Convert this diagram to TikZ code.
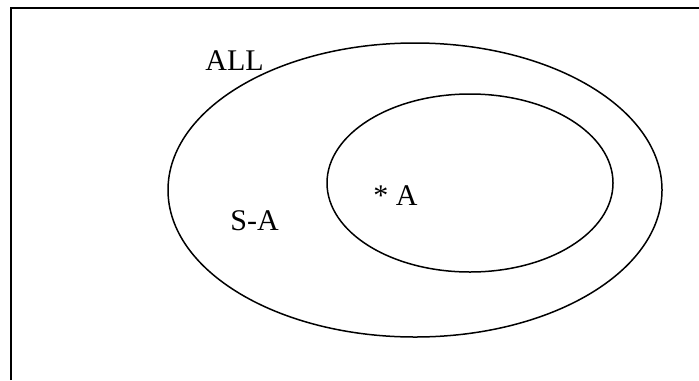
\documentclass[tikz,border=0pt]{standalone}
\usepackage{fontspec}
\setmainfont{Liberation Serif}
\usetikzlibrary{shapes.geometric, positioning}

\begin{document}
\begin{tikzpicture}[x=0.5pt, y=-0.5pt, font=\fontsize{15}{18}\selectfont,
    setshape/.style={ellipse, draw, line width=0.75pt, inner sep=0pt},
    setlabel/.style={anchor=base west, inner sep=0pt}]
    \useasboundingbox (0, 0) rectangle (699, 380);

    % Frame (open to the right and bottom)
    \draw[line width=1pt] (10.5, 380) -- (10.5, 7.5) -- (699, 7.5);

    % Sets
    \node[setshape, minimum width=247pt, minimum height=147pt] (all) at (415, 190) {};
    \node[setshape, minimum width=143pt, minimum height=89pt] (a) at (470, 183) {};

    % Labels
    \node[setlabel] (alllabel) at (205, 70) {ALL};
    \node[setlabel] (restlabel) at (230, 230) {S-A};
    \node[setlabel] (alabel) at (373, 205) {* A};
\end{tikzpicture}
\end{document}
